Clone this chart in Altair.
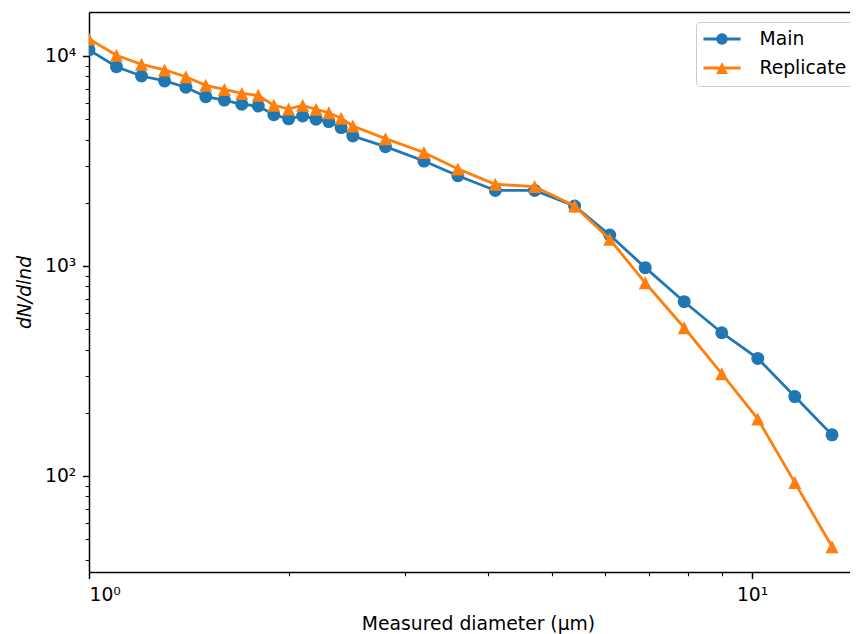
import altair as alt
import pandas as pd

# ---- data ----
diameter = [1.0, 1.1, 1.2, 1.3, 1.4, 1.5, 1.6, 1.7, 1.8, 1.9, 2.0, 2.1, 2.2, 2.3, 2.4, 2.5,
            2.8, 3.2, 3.6, 4.1, 4.7, 5.4, 6.1, 6.9, 7.9, 9.0, 10.2, 11.6, 13.2]
main_vals = [10700, 8890, 8030, 7610, 7100, 6400, 6170, 5890, 5780, 5250, 5020, 5180, 5000,
             4870, 4560, 4160, 3700, 3160, 2690, 2290, 2290, 1930, 1405, 982, 676, 481, 363,
             239, 157]
rep_vals = [12050, 10080, 9130, 8580, 7970, 7250, 6930, 6630, 6500, 5820, 5600, 5820, 5570,
            5370, 5050, 4640, 4040, 3470, 2900, 2450, 2390, 1930, 1340, 832, 508, 307, 187,
            93, 46]
series_names = ["Main", "Replicate"]
series_colors = ["#1f77b4", "#ff7f0e"]

x_major = [1, 10]
x_minor = [2, 3, 4, 5, 6, 7, 8, 9]
y_major = [100, 1000, 10000]
y_minor = [40, 50, 60, 70, 80, 90, 200, 300, 400, 500, 600, 700, 800, 900,
           2000, 3000, 4000, 5000, 6000, 7000, 8000, 9000]

n = len(diameter)
df = pd.DataFrame({
    "d": diameter + diameter,
    "v": main_vals + rep_vals,
    "series": ["Main"] * n + ["Replicate"] * n,
})

FONT = "DejaVu Sans"
FS = 18.75

xscale = alt.Scale(type="log", domain=[1, 14.05], nice=False)
yscale = alt.Scale(type="log", domain=[34.9, 16200], nice=False)
cscale = alt.Scale(domain=series_names, range=series_colors)

common_axis = dict(labelFont=FONT, labelFontSize=FS, labelColor="black",
                   tickColor="black", domainColor="black", grid=False)

x_major_axis = alt.Axis(orient="bottom", values=x_major,
                        labelExpr="datum.value == 1 ? '10⁰' : '10¹'",
                        tickSize=6.56, tickWidth=1.5, domain=True, domainWidth=1.5,
                        labelPadding=6.56, labelBaseline="top",
                        title="Measured diameter (μm)", titleFont=FONT, titleFontSize=FS,
                        titleFontWeight="normal", titleColor="black",
                        titleX=389, titleY=51, titleAlign="center", titleBaseline="middle",
                        **common_axis)
y_major_axis = alt.Axis(orient="left", values=y_major,
                        labelExpr="datum.value == 100 ? '10²' : (datum.value == 1000 ? '10³' : '10⁴')",
                        tickSize=6.56, tickWidth=1.5, domain=True, domainWidth=1.5,
                        labelPadding=6.56,
                        title="dN/dlnd", titleFont=FONT, titleFontSize=FS,
                        titleFontWeight="normal", titleFontStyle="italic", titleColor="black",
                        titleX=-65, titleY=280, titleAngle=270, titleAlign="center",
                        titleBaseline="middle",
                        **common_axis)
x_minor_axis = alt.Axis(orient="bottom", values=x_minor, labels=False, tickSize=3.75,
                        tickWidth=1.1, domain=False, title=None, **common_axis)
y_minor_axis = alt.Axis(orient="left", values=y_minor, labels=False, tickSize=3.75,
                        tickWidth=1.1, domain=False, title=None, **common_axis)
x_top_axis = alt.Axis(orient="top", domain=True, domainWidth=1.5, ticks=False, labels=False,
                      title=None, **common_axis)

base = alt.Chart(df)

def enc(chart, xaxis=None, yaxis=None):
    return chart.encode(
        x=alt.X("d:Q", scale=xscale, axis=xaxis),
        y=alt.Y("v:Q", scale=yscale, axis=yaxis),
        color=alt.Color("series:N", scale=cscale, legend=None),
    )

main_line = enc(base.transform_filter("datum.series == 'Main'").mark_line(strokeWidth=2.8, clip=True),
                x_major_axis, y_major_axis)
main_pts = enc(base.transform_filter("datum.series == 'Main'").mark_point(
    shape="circle", filled=True, size=169, opacity=1, clip=True), x_minor_axis, y_minor_axis)
rep_line = enc(base.transform_filter("datum.series == 'Replicate'").mark_line(strokeWidth=2.8, clip=True),
               x_top_axis, None)
rep_pts = enc(base.transform_filter("datum.series == 'Replicate'").mark_point(
    shape="M0,-1L1,1L-1,1Z", filled=True, size=169, opacity=1, clip=True))

legend_paths = [
    "M-1.95,-0.147L1.95,-0.147L1.95,0.147L-1.95,0.147Z"
    "M0.6,0A0.6,0.6,0,1,1,-0.6,0A0.6,0.6,0,1,1,0.6,0Z",
    "M-1.95,-0.147L1.95,-0.147L1.95,0.147L-1.95,0.147Z"
    "M0,-0.62L0.62,0.62L-0.62,0.62Z",
]
leg = alt.Legend(title=None, orient="none", legendX=607, legendY=10, padding=7.5,
                 symbolSize=361, symbolStrokeWidth=0, symbolOffset=9, labelOffset=28,
                 rowPadding=9, labelFont=FONT, labelFontSize=FS, labelColor="black",
                 strokeColor="#cccccc", fillColor="rgba(255,255,255,0.8)", cornerRadius=4,
                 symbolOpacity=1)
legend_layer = base.transform_filter("false").mark_point(filled=True, opacity=1, size=361).encode(
    x=alt.X("d:Q", scale=xscale, axis=None),
    y=alt.Y("v:Q", scale=yscale, axis=None),
    color=alt.Color("series:N", scale=cscale, legend=leg),
    shape=alt.Shape("series:N", scale=alt.Scale(domain=series_names, range=legend_paths), legend=leg),
)

chart = alt.layer(main_line, main_pts, rep_line, rep_pts, legend_layer).resolve_axis(
    x="independent", y="independent"
).resolve_legend(color="independent", shape="independent").properties(
    width=761, height=560,
    autosize=alt.AutoSizeParams(type="none"),
    padding={"left": 81, "top": 4, "right": 0, "bottom": 62},
).configure_view(stroke="transparent")

chart.save("out.html", embed_options={"renderer": "svg", "actions": False})
